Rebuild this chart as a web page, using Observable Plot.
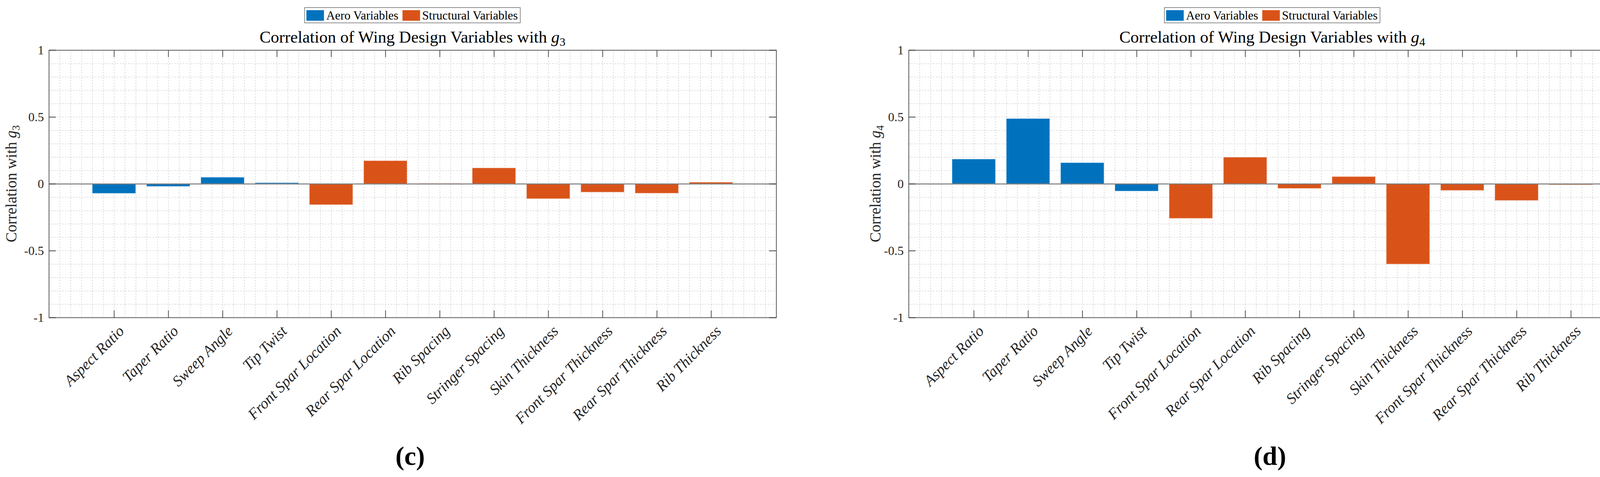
<!DOCTYPE html>
<html>
<head>
<meta charset="utf-8">
<script src="https://cdn.jsdelivr.net/npm/d3@7"></script>
<script src="https://cdn.jsdelivr.net/npm/@observablehq/plot@0.6"></script>
<style>
  html, body { margin: 0; padding: 0; background: #fff; }
  body { width: 4206px; height: 1220px; position: relative; overflow: hidden; font-family: 'Liberation Serif', 'DejaVu Serif', serif; color: #000; }
  .panel { position: absolute; top: 0; width: 2103px; height: 1220px; }
  .legend { position: absolute; top: 19px; height: 38px; border: 1.5px solid #262626; background: #fff;
            display: flex; align-items: center; padding: 0 6px 0 4px; transform: translateX(-50%); white-space: nowrap; }
  .legend .sw { width: 45px; height: 27px; display: inline-block; margin-right: 6px; }
  .legend .lab { font-size: 31px; line-height: 1; margin-right: 10px; color: #000; }
  .legend .lab:last-child { margin-right: 0; }
  .title { position: absolute; top: 73px; font-size: 43px; line-height: 1; transform: translateX(-50%); white-space: nowrap; color: #000; }
  .title sub { font-size: 0.7em; vertical-align: -0.25em; line-height: 0; }
  .cap { position: absolute; top: 1132px; font-size: 68px; line-height: 1; font-weight: bold; transform: translateX(-50%); white-space: nowrap; color: #000; }
  svg { position: absolute; top: 120px; left: 0; }
</style>
</head>
<body>
<script>
// ---- data ----
const variables = ["Aspect Ratio", "Taper Ratio", "Sweep Angle", "Tip Twist", "Front Spar Location", "Rear Spar Location",
  "Rib Spacing", "Stringer Spacing", "Skin Thickness", "Front Spar Thickness", "Rear Spar Thickness", "Rib Thickness"];
const groups = ["Aero Variables", "Aero Variables", "Aero Variables", "Aero Variables",
  "Structural Variables", "Structural Variables", "Structural Variables", "Structural Variables",
  "Structural Variables", "Structural Variables", "Structural Variables", "Structural Variables"];
const corrG3 = [-0.072, -0.020, 0.049, 0.008, -0.157, 0.173, 0.003, 0.119, -0.112, -0.063, -0.071, 0.012];
const corrG4 = [0.185, 0.488, 0.158, -0.055, -0.259, 0.199, -0.035, 0.054, -0.601, -0.050, -0.125, -0.008];
const legendNames = ["Aero Variables", "Structural Variables"];
const barColors = ["#0072BD", "#D95319"];
const yTicks = [-1, -0.5, 0, 0.5, 1];
const yMinor = [-0.9, -0.8, -0.7, -0.6, -0.5, -0.4, -0.3, -0.2, -0.1, 0, 0.1, 0.2, 0.3, 0.4, 0.5, 0.6, 0.7, 0.8, 0.9];
const xDomain = [-0.2, 13.2];
const xMinorStep = 0.2;

const FONT = "'Liberation Serif', 'DejaVu Serif', serif";

function panel({left, ml, mr, values, sub, letter, ylabOffset}) {
  const W = 2103, H = 960, mt = 8, plotH = 684;
  const plotW = W - ml - mr;
  const tickX = 18 * (xDomain[1] - xDomain[0]) / plotW;
  const tickY = 18 * 2 / plotH;
  const rows = variables.map((v, i) => ({name: v, pos: i + 1, value: values[i], group: groups[i]}));
  const positions = rows.map(d => d.pos);
  const xMinor = d3.range(1, Math.round((xDomain[1] - xDomain[0]) / xMinorStep)).map(k => +(xDomain[0] + k * xMinorStep).toFixed(4));

  const div = document.createElement("div");
  div.className = "panel";
  div.style.left = left + "px";
  document.body.appendChild(div);
  const cx = ml + plotW / 2;

  // legend
  const lg = document.createElement("div");
  lg.className = "legend";
  lg.style.left = cx + "px";
  legendNames.forEach((n, i) => {
    const sw = document.createElement("span"); sw.className = "sw"; sw.style.background = barColors[i];
    const lb = document.createElement("span"); lb.className = "lab"; lb.textContent = n;
    lg.appendChild(sw); lg.appendChild(lb);
  });
  div.appendChild(lg);

  // title
  const tt = document.createElement("div");
  tt.className = "title";
  tt.style.left = cx + "px";
  tt.innerHTML = `Correlation of Wing Design Variables with <i>g</i><sub>${sub}</sub>`;
  div.appendChild(tt);

  const chart = Plot.plot({
    width: W, height: H,
    marginLeft: ml, marginRight: mr, marginTop: mt, marginBottom: H - mt - plotH,
    x: {domain: xDomain, axis: null},
    y: {domain: [-1, 1], axis: null},
    color: {domain: legendNames, range: barColors},
    style: {fontFamily: FONT, fontSize: "32px", color: "#262626", background: "transparent", overflow: "visible"},
    marks: [
      Plot.ruleX(xMinor, {stroke: "#cccccc", strokeWidth: 1.5, strokeDasharray: "3,4"}),
      Plot.ruleY(yMinor, {stroke: "#cccccc", strokeWidth: 1.5, strokeDasharray: "3,4"}),
      Plot.rectY(rows, {x1: d => d.pos - 0.4, x2: d => d.pos + 0.4, y1: 0, y2: "value", fill: "group",
        stroke: "white", strokeOpacity: 0.35, strokeWidth: 2}),
      Plot.ruleY([0], {stroke: "#7a7a7a", strokeWidth: 2.5}),
      Plot.ruleX(positions, {y1: -1, y2: -1 + tickY, stroke: "#555", strokeWidth: 2}),
      Plot.ruleX(positions, {y1: 1, y2: 1 - tickY, stroke: "#555", strokeWidth: 2}),
      Plot.ruleY(yTicks, {x1: xDomain[0], x2: xDomain[0] + tickX, stroke: "#444", strokeWidth: 2}),
      Plot.ruleY(yTicks, {x1: xDomain[1], x2: xDomain[1] - tickX, stroke: "#444", strokeWidth: 2}),
      Plot.frame({stroke: "#262626", strokeWidth: 1.5}),
      Plot.axisY(yTicks, {tickSize: 0, tickPadding: 13, tickFormat: d => String(d), fontSize: 32, fontFamily: FONT, label: null, fill: "#262626"}),
      Plot.text(rows, {x: "pos", text: "name", frameAnchor: "bottom", rotate: -45, textAnchor: "end", lineAnchor: "middle",
        dx: 19, dy: 28, fontStyle: "italic", fontFamily: FONT, fontSize: 39, fill: "#262626"})
    ]
  });
  div.appendChild(chart);

  // y label with subscript
  const svg = d3.select(chart);
  const t = svg.append("text")
    .attr("transform", `translate(${ml - ylabOffset},${mt + plotH / 2}) rotate(-90)`)
    .attr("text-anchor", "middle")
    .attr("font-family", FONT)
    .attr("font-size", 39)
    .attr("fill", "#262626");
  t.append("tspan").text("Correlation with ");
  t.append("tspan").attr("font-style", "italic").text("g");
  t.append("tspan").attr("font-size", 27).attr("dy", "0.3em").text(sub);

  // caption
  const cap = document.createElement("div");
  cap.className = "cap";
  cap.style.left = (cx - 6) + "px";
  cap.textContent = `(${letter})`;
  div.appendChild(cap);
}

panel({left: 0, ml: 125, mr: 116, values: corrG3, sub: "3", letter: "c", ylabOffset: 83});
panel({left: 2103, ml: 223, mr: 18, values: corrG4, sub: "4", letter: "d", ylabOffset: 72});
</script>
</body>
</html>
